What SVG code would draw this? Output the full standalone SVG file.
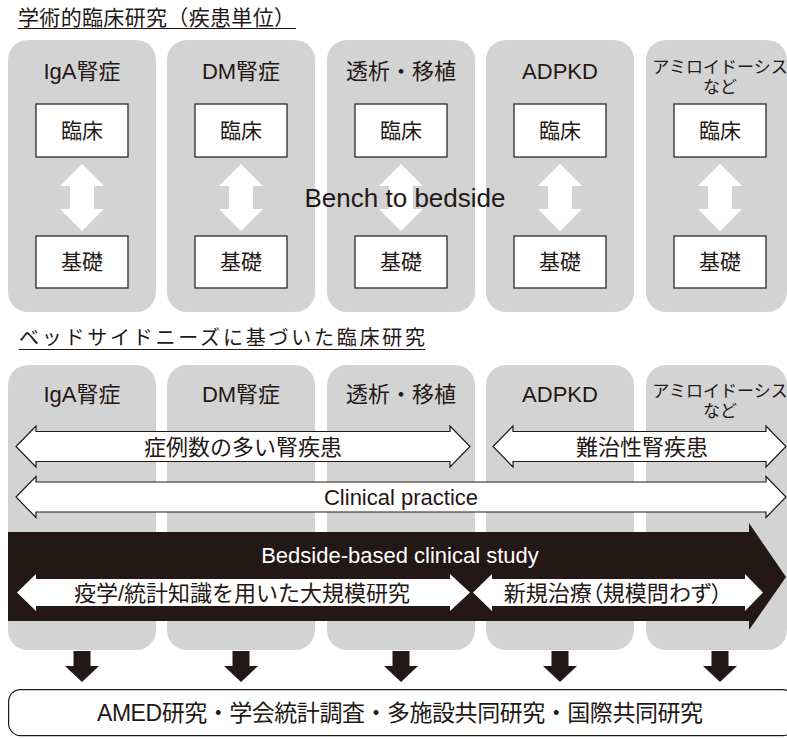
<svg xmlns="http://www.w3.org/2000/svg" width="787" height="739" viewBox="0 0 787 739">
<style>
.t{font-family:"Liberation Sans","Noto Sans CJK JP",sans-serif;fill:#231815;text-anchor:middle}
.ttl{font-family:"Liberation Sans","Noto Sans CJK JP",sans-serif;fill:#231815}
.col{fill:#d3d3d3}
.box{fill:#fff;stroke:#231815;stroke-width:1.2}
.wa{fill:#fff}
.oa{fill:#fff;stroke:#231815;stroke-width:1.2;stroke-linejoin:miter}
.ba{fill:#231815}
.ul{stroke:#231815;stroke-width:1.2}
.h{font-size:22px}
.h5{font-size:17px}
.b{font-size:21px}
.w{fill:#fff}
.palt{font-feature-settings:"palt"}
</style>
<g id="title1">
<text class="ttl" x="18" y="25" font-size="21" textLength="277">学術的臨床研究（疾患単位）</text>
<line class="ul" x1="18" y1="28.5" x2="296" y2="28.5"/>
</g>
<g id="top-columns">
<g id="col1-top"><rect class="col" x="8" y="40" width="148" height="272" rx="20"/><text class="t h" x="82" y="79">IgA腎症</text></g>
<g id="col2-top"><rect class="col" x="167" y="40" width="148" height="272" rx="20"/><text class="t h" x="241" y="79">DM腎症</text></g>
<g id="col3-top"><rect class="col" x="327" y="40" width="148" height="272" rx="20"/><text class="t h" x="401" y="79">透析・移植</text></g>
<g id="col4-top"><rect class="col" x="486" y="40" width="148" height="272" rx="20"/><text class="t h" x="560" y="79">ADPKD</text></g>
<g id="col5-top"><rect class="col" x="646" y="40" width="141" height="272" rx="20"/><text class="t h5" x="720" y="73">アミロイドーシス</text><text class="t h5" x="720" y="93">など</text></g>
</g>
<g id="boxes">
<g id="rinsho1"><rect class="box" x="36" y="104" width="92" height="53"/><text class="t b" x="82" y="138">臨床</text></g>
<g id="kiso1"><rect class="box" x="36" y="236" width="92" height="52"/><text class="t b" x="82" y="269">基礎</text></g>
<g id="rinsho2"><rect class="box" x="195" y="104" width="92" height="53"/><text class="t b" x="241" y="138">臨床</text></g>
<g id="kiso2"><rect class="box" x="195" y="236" width="92" height="52"/><text class="t b" x="241" y="269">基礎</text></g>
<g id="rinsho3"><rect class="box" x="355" y="104" width="92" height="53"/><text class="t b" x="401" y="138">臨床</text></g>
<g id="kiso3"><rect class="box" x="355" y="236" width="92" height="52"/><text class="t b" x="401" y="269">基礎</text></g>
<g id="rinsho4"><rect class="box" x="514" y="104" width="92" height="53"/><text class="t b" x="560" y="138">臨床</text></g>
<g id="kiso4"><rect class="box" x="514" y="236" width="92" height="52"/><text class="t b" x="560" y="269">基礎</text></g>
<g id="rinsho5"><rect class="box" x="674" y="104" width="92" height="53"/><text class="t b" x="720" y="138">臨床</text></g>
<g id="kiso5"><rect class="box" x="674" y="236" width="92" height="52"/><text class="t b" x="720" y="269">基礎</text></g>
</g>
<g id="connectors">
<path class="wa" d="M82,164 L104,186 L94,186 L94,209 L104,209 L82,231 L60,209 L70,209 L70,186 L60,186 Z"/>
<path class="wa" d="M241,164 L263,186 L253,186 L253,209 L263,209 L241,231 L219,209 L229,209 L229,186 L219,186 Z"/>
<path class="wa" d="M401,164 L423,186 L413,186 L413,209 L423,209 L401,231 L379,209 L389,209 L389,186 L379,186 Z"/>
<path class="wa" d="M560,164 L582,186 L572,186 L572,209 L582,209 L560,231 L538,209 L548,209 L548,186 L538,186 Z"/>
<path class="wa" d="M720,164 L742,186 L732,186 L732,209 L742,209 L720,231 L698,209 L708,209 L708,186 L698,186 Z"/>
<path class="ba" d="M73.5,651 h17 v15 h8.5 L82,682 L65,666 h8.5 Z"/>
<path class="ba" d="M232.5,651 h17 v15 h8.5 L241,682 L224,666 h8.5 Z"/>
<path class="ba" d="M392.5,651 h17 v15 h8.5 L401,682 L384,666 h8.5 Z"/>
<path class="ba" d="M551.5,651 h17 v15 h8.5 L560,682 L543,666 h8.5 Z"/>
<path class="ba" d="M711.5,651 h17 v15 h8.5 L720,682 L703,666 h8.5 Z"/>
</g>
<g id="bench-label">
<text class="t" x="405" y="207" font-size="26">Bench to bedside</text>
</g>
<g id="title2">
<text class="ttl" x="19" y="345" font-size="20" textLength="406">ベッドサイドニーズに基づいた臨床研究</text>
<line class="ul" x1="19" y1="349.5" x2="425" y2="349.5"/>
</g>
<g id="bottom-columns">
<g id="col1-bot"><rect class="col" x="8" y="365" width="148" height="285" rx="20"/><text class="t h" x="82" y="402">IgA腎症</text></g>
<g id="col2-bot"><rect class="col" x="167" y="365" width="148" height="285" rx="20"/><text class="t h" x="241" y="402">DM腎症</text></g>
<g id="col3-bot"><rect class="col" x="327" y="365" width="148" height="285" rx="20"/><text class="t h" x="401" y="402">透析・移植</text></g>
<g id="col4-bot"><rect class="col" x="486" y="365" width="148" height="285" rx="20"/><text class="t h" x="560" y="402">ADPKD</text></g>
<g id="col5-bot"><rect class="col" x="646" y="365" width="141" height="285" rx="20"/><text class="t h5" x="720" y="397">アミロイドーシス</text><text class="t h5" x="720" y="417">など</text></g>
</g>
<g id="arrow-common">
<path class="oa" d="M16,446.5 L36,426 L36,431.5 L450,431.5 L450,426 L470,446.5 L450,467 L450,461.5 L36,461.5 L36,467 Z"/>
<text class="t h" x="243" y="455">症例数の多い腎疾患</text>
</g>
<g id="arrow-intractable">
<path class="oa" d="M493,446.5 L513,426 L513,431.5 L766,431.5 L766,426 L786,446.5 L766,467 L766,461.5 L513,461.5 L513,467 Z"/>
<text class="t h" x="642" y="455">難治性腎疾患</text>
</g>
<g id="arrow-clinical">
<path class="oa" d="M16,497 L36,476.5 L36,482 L766,482 L766,476.5 L786,497 L766,517.5 L766,512 L36,512 L36,517.5 Z"/>
<text class="t h" x="401" y="505">Clinical practice</text>
</g>
<g id="bedside-study">
<path class="ba" d="M8,532 L749,532 L749,523 L786,577 L749,630 L749,621 L8,621 Z"/>
<text class="t h w" x="400" y="563">Bedside-based clinical study</text>
<path class="wa" d="M17,592.5 L36,574 L36,579 L450,579 L450,574 L470,592.5 L450,611 L450,606 L36,606 L36,611 Z"/>
<text class="t h" x="242" y="601">疫学/統計知識を用いた大規模研究</text>
<path class="wa" d="M473,592.5 L492,574 L492,579 L745,579 L745,574 L763,592.5 L745,611 L745,606 L492,606 L492,611 Z"/>
<text class="t h palt" x="613" y="601">新規治療（規模問わず）</text>
</g>
<g id="outcome">
<rect x="8.6" y="689.6" width="786" height="46" rx="12" fill="#fff" stroke="#231815" stroke-width="1.2"/>
<text class="t" x="400" y="721" font-size="23" textLength="606">AMED研究・学会統計調査・多施設共同研究・国際共同研究</text>
</g>
</svg>
